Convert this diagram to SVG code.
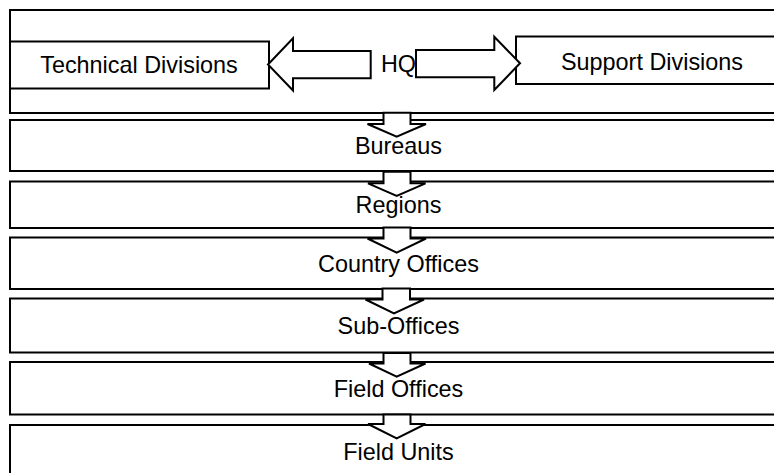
<svg xmlns="http://www.w3.org/2000/svg" width="774" height="473" viewBox="0 0 774 473">
  <style>
    .box { fill: #ffffff; stroke: #000000; stroke-width: 2; }
    .arrow { fill: #ffffff; stroke: #000000; stroke-width: 2; stroke-linejoin: miter; }
    .label { font-family: "Liberation Sans", Arial, sans-serif; font-size: 23.4px; fill: #000000; text-anchor: middle; }
  </style>
  <rect x="0" y="0" width="774" height="473" fill="#ffffff"/>
  <g id="hq">
    <rect class="box" x="10" y="10" width="780" height="103"/>
    <text class="label" x="398.5" y="71.5">HQ</text>
  </g>
  <g id="technical-divisions">
    <rect class="box" x="10" y="41.5" width="259" height="47"/>
    <text class="label" x="139" y="73">Technical Divisions</text>
  </g>
  <g id="support-divisions">
    <rect class="box" x="516" y="36.5" width="274" height="47.5"/>
    <text class="label" x="652" y="70">Support Divisions</text>
  </g>
  <g id="bureaus">
    <rect class="box" x="10" y="120" width="780" height="51"/>
    <text class="label" x="398.5" y="153.5">Bureaus</text>
  </g>
  <g id="regions">
    <rect class="box" x="10" y="181.5" width="780" height="46.5"/>
    <text class="label" x="398.5" y="213">Regions</text>
  </g>
  <g id="country-offices">
    <rect class="box" x="10" y="237.5" width="780" height="51.5"/>
    <text class="label" x="398.5" y="272">Country Offices</text>
  </g>
  <g id="sub-offices">
    <rect class="box" x="10" y="298.5" width="780" height="54"/>
    <text class="label" x="398.5" y="333.5">Sub-Offices</text>
  </g>
  <g id="field-offices">
    <rect class="box" x="10" y="362" width="780" height="52.5"/>
    <text class="label" x="398.5" y="397">Field Offices</text>
  </g>
  <g id="field-units">
    <rect class="box" x="10" y="425" width="780" height="60"/>
    <text class="label" x="398.5" y="460">Field Units</text>
  </g>
  <g id="connectors">
    <polygon class="arrow" points="268,64.5 293,38.3 293,51 370.7,51 370.7,78.3 293,78.3 293,90.5"/>
    <polygon class="arrow" points="520,63.3 494.3,36.7 494.3,50 416,50 416,77.3 494.3,77.3 494.3,90"/>
    <polygon class="arrow" points="383.5,112.7 410.5,112.7 410.5,124 426,124 396.7,136.7 367.5,124 383.5,124"/>
    <polygon class="arrow" points="383.5,171.7 410.5,171.7 410.5,183.3 425.5,183.3 396.7,196 368,183.3 383.5,183.3"/>
    <polygon class="arrow" points="383.5,227.5 410.5,227.5 410.5,238.5 426,238.5 396.7,252.7 367.5,238.5 383.5,238.5"/>
    <polygon class="arrow" points="382.5,288.5 410,288.5 410,299.5 424,299.5 394,313.3 365.5,299.5 382.5,299.5"/>
    <polygon class="arrow" points="383.5,353 410.5,353 410.5,363.5 425.5,363.5 396.7,376.7 369,363.5 383.5,363.5"/>
    <polygon class="arrow" points="383.5,414.5 410.5,414.5 410.5,424 425.5,424 396.7,438.3 368,424 383.5,424"/>
  </g>
</svg>
